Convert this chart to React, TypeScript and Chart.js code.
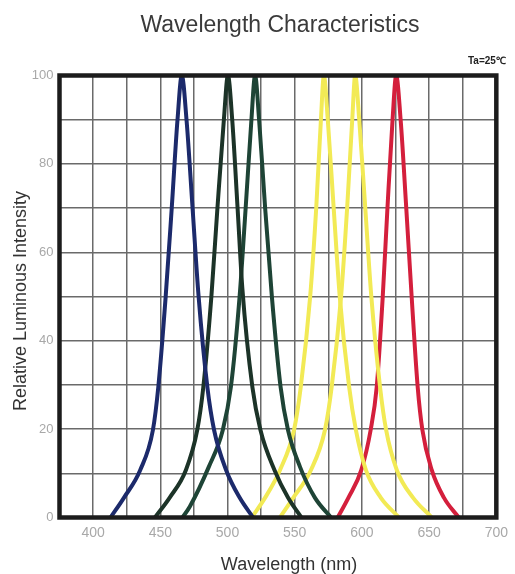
import React, { useEffect, useRef } from "react";
import { Chart, registerables } from "chart.js";

Chart.register(...registerables);

const chartTitle = "Wavelength Characteristics";
const tempNote = "Ta=25℃";
const xAxisTitle = "Wavelength (nm)";
const yAxisTitle = "Relative Luminous Intensity";

const xTickLabels = [400, 450, 500, 550, 600, 650, 700];
const yTickLabels = [0, 20, 40, 60, 80, 100];

const blueNm = [413, 423, 435, 444.5, 448.5, 454, 458.5, 462.8, 466, 469.5, 474, 478.5, 485, 490, 499, 509, 519];
const blueVal = [0, 4.5, 10.7, 19.8, 29.5, 50, 70, 90, 100, 90, 70, 50, 29.5, 19.8, 10.7, 4.5, 0];

const green1Nm = [446, 457, 469, 477.5, 482, 488, 492.5, 497.3, 500.3, 503.5, 507.5, 511, 518.5, 524.5, 535, 545, 555];
const green1Val = [0, 4.5, 10.7, 19.8, 29.5, 50, 70, 90, 100, 90, 70, 52, 29.5, 19.8, 10.7, 4.5, 0];

const green2Nm = [466.5, 472, 486, 496.5, 502.5, 509, 513.5, 517.8, 520.5, 523.5, 528, 533, 539.5, 545, 554, 565, 577];
const green2Val = [0, 2.5, 11.4, 19.8, 29.5, 50, 70, 90, 100, 90, 70, 50, 29.5, 19.8, 11.4, 4.5, 0];

const yellow1Nm = [518, 528, 539, 549.5, 554.5, 561.5, 566, 569.5, 571.7, 574.6, 579, 583.5, 590.5, 595.5, 603, 614, 627.6];
const yellow1Val = [0, 4.5, 10.7, 19.8, 29.5, 50, 70, 90, 100, 90, 70, 50, 29.5, 19.8, 10.7, 4.5, 0];

const yellow2Nm = [539, 549, 562, 572.5, 577.5, 584.5, 589, 592.8, 595, 598, 602.5, 607, 613.5, 618, 626, 638, 652];
const yellow2Val = [0, 4.5, 10.7, 19.8, 29.5, 50, 70, 90, 100, 90, 70, 50, 29.5, 19.8, 10.7, 4.5, 0];

const redNm = [582, 590, 599.5, 606.5, 611, 615.5, 619, 622.8, 625.5, 628.8, 633, 637, 641.5, 645, 652, 661, 672];
const redVal = [0, 4.5, 10.7, 19.8, 29.5, 50, 70, 90, 100, 90, 70, 50, 29.5, 19.8, 10.7, 4.5, 0];

const FONT = "'Liberation Sans', Arial, sans-serif";

function pts(xs: number[], ys: number[]) {
  return xs.map((x, i) => ({ x, y: ys[i] }));
}

const textPlugin = {
  id: "textPlugin",
  afterDatasetsDraw(chart: any) {
    const { ctx, chartArea } = chart;
    ctx.save();
    ctx.strokeStyle = "#1c1c1c";
    ctx.lineWidth = 4.5;
    ctx.strokeRect(chartArea.left, chartArea.top, chartArea.right - chartArea.left, chartArea.bottom - chartArea.top);
    ctx.restore();
  },
  afterDraw(chart: any) {
    const { ctx } = chart;
    ctx.save();
    ctx.fillStyle = "#3a3a3a";
    ctx.font = `23px ${FONT}`;
    ctx.textAlign = "center";
    ctx.textBaseline = "alphabetic";
    ctx.fillText(chartTitle, 280, 32);

    ctx.fillStyle = "#222";
    ctx.font = `bold 10px ${FONT}`;
    ctx.textAlign = "left";
    ctx.fillText(tempNote, 468, 64);

    ctx.fillStyle = "#333";
    ctx.font = `18px ${FONT}`;
    ctx.textAlign = "center";
    ctx.fillText(xAxisTitle, 289, 570);

    ctx.translate(26, 301);
    ctx.rotate(-Math.PI / 2);
    ctx.fillText(yAxisTitle, 0, 0);
    ctx.restore();
  },
};

function mk(label: string, xs: number[], ys: number[], color: string) {
  return {
    label,
    data: pts(xs, ys),
    borderColor: color,
    backgroundColor: color,
    borderWidth: 4,
    pointRadius: 0,
    showLine: true,
    fill: false,
    cubicInterpolationMode: "monotone" as const,
  };
}

export default function App() {
  const ref = useRef<HTMLCanvasElement | null>(null);
  useEffect(() => {
    if (!ref.current) return;
    const gridColor = "#6a6a6a";
    const chart = new Chart(ref.current, {
      type: "scatter",
      data: {
        datasets: [
          mk("Blue", blueNm, blueVal, "#1c2a6b"),
          mk("Green A", green1Nm, green1Val, "#1c3328"),
          mk("Green B", green2Nm, green2Val, "#1e4436"),
          mk("Yellow A", yellow1Nm, yellow1Val, "#f2ea55"),
          mk("Yellow B", yellow2Nm, yellow2Val, "#f2ea55"),
          mk("Red", redNm, redVal, "#d41f3c"),
        ],
      },
      options: {
        animation: false,
        responsive: false,
        devicePixelRatio: 1,
        layout: { padding: { left: 0, right: 17, top: 75.5, bottom: 0 } },
        plugins: { legend: { display: false }, tooltip: { enabled: false }, title: { display: false } },
        scales: {
          x: {
            type: "linear",
            min: 375,
            max: 700,
            afterFit: (s: any) => {
              s.height = 56.5;
            },
            border: { display: false },
            grid: { color: gridColor, lineWidth: 1.5, drawTicks: false },
            ticks: {
              stepSize: 25,
              padding: 7,
              autoSkip: false,
              maxRotation: 0,
              color: "#a8a8a8",
              font: { size: 14, family: FONT },
              callback: (v: any) => (xTickLabels.includes(Number(v)) ? String(v) : ""),
            },
          },
          y: {
            type: "linear",
            min: 0,
            max: 100,
            afterFit: (s: any) => {
              s.width = 59.5;
            },
            border: { display: false },
            grid: { color: gridColor, lineWidth: 1.5, drawTicks: false },
            ticks: {
              stepSize: 10,
              padding: 6,
              autoSkip: false,
              color: "#a8a8a8",
              font: { size: 13, family: FONT },
              callback: (v: any) => (yTickLabels.includes(Number(v)) ? String(v) : ""),
            },
          },
        },
      },
      plugins: [textPlugin],
    });
    return () => chart.destroy();
  }, []);
  return (
    <div style={{ position: "fixed", left: 0, top: 0, width: 515, height: 574, background: "#fff" }}>
      <canvas ref={ref} width={515} height={574} style={{ width: 515, height: 574, display: "block" }} />
    </div>
  );
}
